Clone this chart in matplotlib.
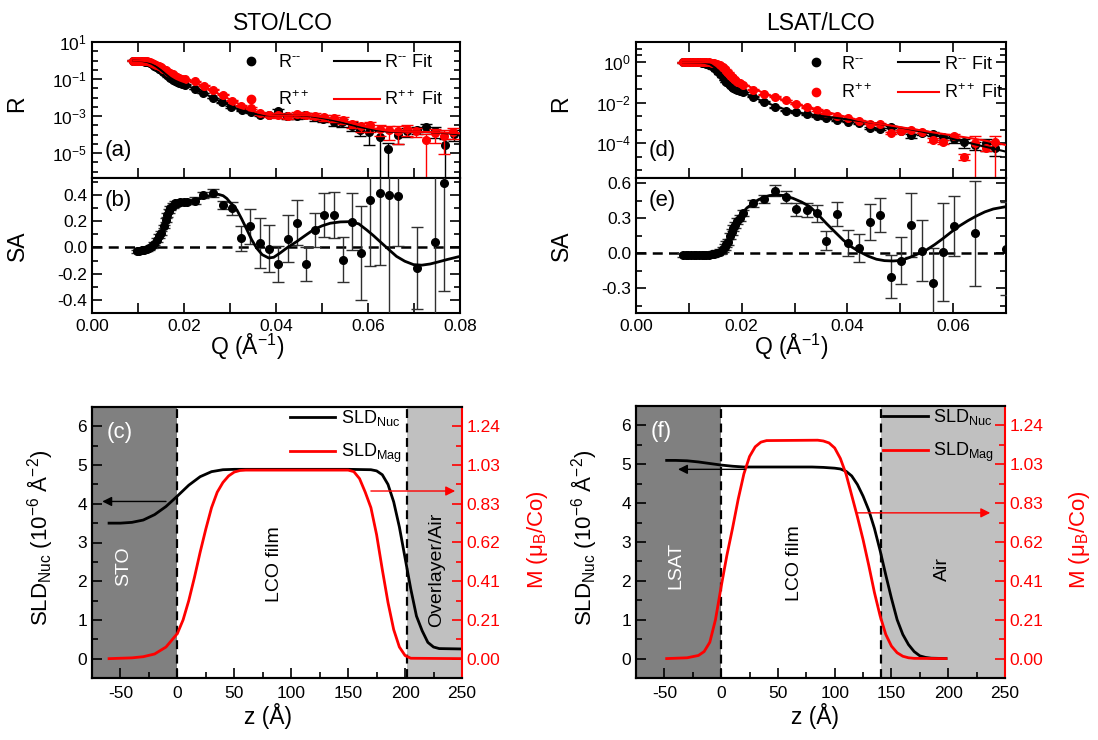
import numpy as np
import matplotlib
matplotlib.use("Agg")
import matplotlib.pyplot as plt
from matplotlib.lines import Line2D
from matplotlib.ticker import FixedLocator, NullFormatter, MultipleLocator, FormatStrFormatter

plt.rcParams.update({
    "font.family": ["Liberation Sans", "DejaVu Sans"],
    "mathtext.fontset": "custom",
    "mathtext.rm": "Liberation Sans",
    "mathtext.it": "Liberation Sans:italic",
    "mathtext.bf": "Liberation Sans:bold",
    "mathtext.default": "regular",
    "axes.unicode_minus": False,
    "axes.linewidth": 1.5,
})

# ---------------- STO/LCO reflectivity (log10 R) ----------------
q_sto_mm = [0.0090, 0.0095, 0.0100, 0.0105, 0.0110, 0.0115, 0.0120, 0.0125, 0.0130, 0.0135,
            0.0140, 0.0145, 0.0150, 0.0155, 0.0160, 0.0165, 0.0170, 0.0175, 0.0180, 0.0185,
            0.0190, 0.0195, 0.0203, 0.0223, 0.0242, 0.0263, 0.0282, 0.0302, 0.0326, 0.0345,
            0.0366, 0.0384, 0.0405, 0.0423, 0.0445, 0.0463, 0.0485, 0.0503, 0.0525, 0.0543,
            0.0565, 0.0583, 0.0603, 0.0625, 0.0644, 0.0666, 0.0685, 0.0706, 0.0726, 0.0746,
            0.0767, 0.0788]
logr_sto_mm = [0.00, 0.00, -0.01, -0.02, -0.04, -0.06, -0.09, -0.14, -0.20, -0.27,
               -0.35, -0.43, -0.52, -0.63, -0.74, -0.85, -0.95, -1.03, -1.10, -1.15,
               -1.20, -1.25, -1.30, -1.53, -1.75, -2.02, -2.25, -2.50, -2.69, -2.79,
               -2.92, -2.92, -2.74, -3.01, -3.01, -2.92, -3.05, -3.15, -3.33, -3.33,
               -3.51, -3.73, -3.88, -4.12, -4.77, -4.00, -3.82, -3.73, -3.58, -3.80,
               -4.54, -3.95]
relerr_sto_mm = [0.03] * 23 + [0.05] * 4 + [
    0.08, 0.10, 0.12, 0.15, 0.20, 0.40, 0.30, 0.30, 0.30, 0.35,
    0.35, 0.40, 0.45, 0.50, 0.55, 0.80, 1.00, 1.00, 0.70, 0.50,
    0.45, 0.50, 0.60, 1.00, 0.60]

q_sto_pp = [0.0090, 0.0095, 0.0100, 0.0105, 0.0110, 0.0115, 0.0120, 0.0125, 0.0130, 0.0135,
            0.0140, 0.0145, 0.0150, 0.0155, 0.0160, 0.0165, 0.0170, 0.0175, 0.0180, 0.0185,
            0.0190, 0.0195, 0.0203, 0.0224, 0.0244, 0.0264, 0.0285, 0.0304, 0.0324, 0.0345,
            0.0366, 0.0385, 0.0405, 0.0425, 0.0445, 0.0465, 0.0485, 0.0505, 0.0525, 0.0545,
            0.0565, 0.0585, 0.0605, 0.0625, 0.0645, 0.0665, 0.0685, 0.0705, 0.0725, 0.0745,
            0.0765, 0.0785]
logr_sto_pp = [0.00, 0.00, 0.00, -0.01, -0.02, -0.03, -0.05, -0.08, -0.12, -0.17,
               -0.23, -0.30, -0.37, -0.45, -0.53, -0.61, -0.68, -0.75, -0.81, -0.87,
               -0.92, -0.97, -1.02, -1.12, -1.35, -1.57, -1.84, -2.16, -2.43, -2.56,
               -2.85, -2.95, -2.95, -3.00, -2.90, -2.95, -2.98, -3.05, -3.10, -3.20,
               -3.40, -3.55, -3.50, -3.70, -3.75, -3.80, -3.70, -3.80, -4.27, -3.90,
               -4.05, -3.85]
relerr_sto_pp = [0.03] * 23 + [0.05] * 4 + [
    0.08, 0.10, 0.12, 0.15, 0.20, 0.25, 0.30, 0.30, 0.30, 0.35,
    0.35, 0.40, 0.40, 0.45, 0.50, 0.55, 0.60, 0.70, 0.80, 0.60,
    0.50, 1.00, 0.70, 0.90, 0.60]

q_fit_sto = [0.009, 0.010, 0.011, 0.012, 0.013, 0.014, 0.015, 0.016, 0.017, 0.018,
             0.019, 0.020, 0.022, 0.024, 0.026, 0.028, 0.030, 0.032, 0.034, 0.036,
             0.038, 0.040, 0.042, 0.044, 0.046, 0.048, 0.050, 0.052, 0.054, 0.056,
             0.058, 0.060, 0.062, 0.064, 0.066, 0.068, 0.070, 0.072, 0.074, 0.076,
             0.078, 0.080]
logfit_sto_mm = [0.00, -0.01, -0.03, -0.08, -0.18, -0.33, -0.52, -0.73, -0.93, -1.08,
                 -1.19, -1.28, -1.50, -1.73, -1.98, -2.22, -2.45, -2.65, -2.80, -2.90,
                 -2.95, -2.96, -2.95, -2.95, -2.97, -3.02, -3.10, -3.20, -3.32, -3.45,
                 -3.57, -3.68, -3.77, -3.82, -3.85, -3.85, -3.85, -3.85, -3.87, -3.90,
                 -3.94, -3.98]
logfit_sto_pp = [0.00, 0.00, -0.01, -0.04, -0.10, -0.21, -0.36, -0.52, -0.67, -0.80,
                 -0.92, -1.01, -1.15, -1.35, -1.60, -1.85, -2.10, -2.35, -2.60, -2.80,
                 -2.92, -2.97, -2.97, -2.95, -2.95, -2.98, -3.05, -3.13, -3.23, -3.35,
                 -3.48, -3.60, -3.70, -3.78, -3.82, -3.84, -3.85, -3.85, -3.86, -3.88,
                 -3.90, -3.93]

# ---------------- STO/LCO spin asymmetry ----------------
q_sa_sto = [0.0098, 0.0103, 0.0108, 0.0113, 0.0119, 0.0124, 0.0130, 0.0135, 0.0141, 0.0146,
            0.0150, 0.0156, 0.0160, 0.0163, 0.0167, 0.0170, 0.0175, 0.0181, 0.0186, 0.0192,
            0.0199, 0.0206, 0.0224, 0.0242, 0.0263, 0.0284, 0.0304, 0.0324, 0.0344, 0.0366,
            0.0385, 0.0405, 0.0425, 0.0445, 0.0465, 0.0485, 0.0505, 0.0525, 0.0545, 0.0565,
            0.0585, 0.0604, 0.0625, 0.0646, 0.0666, 0.0707, 0.0746, 0.0766]
sa_sto = [-0.030, -0.025, -0.020, -0.018, -0.012, -0.005, 0.008, 0.030, 0.058, 0.085,
          0.110, 0.160, 0.210, 0.250, 0.280, 0.300, 0.320, 0.336, 0.340, 0.344,
          0.346, 0.350, 0.357, 0.400, 0.417, 0.323, 0.300, 0.071, 0.160, 0.033,
          -0.010, -0.126, 0.066, 0.190, -0.126, 0.134, 0.248, 0.248, -0.093, 0.197,
          -0.043, 0.361, 0.417, 0.404, 0.390, -0.156, 0.038, 0.490]
sa_err_sto = [0.012] * 8 + [0.015] * 8 + [0.018] * 6 + [
    0.025, 0.025, 0.030, 0.030, 0.050, 0.095, 0.130, 0.190, 0.180, 0.140,
    0.180, 0.170, 0.130, 0.130, 0.165, 0.175, 0.170, 0.220, 0.360, 0.500,
    0.550, 0.950, 0.380, 0.310, 0.700, 0.820]
q_safit_sto = [0.0098, 0.0110, 0.0120, 0.0130, 0.0135, 0.0140, 0.0145, 0.0150, 0.0155, 0.0160,
               0.0166, 0.0172, 0.0178, 0.0184, 0.0192, 0.0200, 0.0213, 0.0228, 0.0242, 0.0255,
               0.0263, 0.0275, 0.0285, 0.0293, 0.0300, 0.0308, 0.0315, 0.0325, 0.0337, 0.0347,
               0.0358, 0.0370, 0.0384, 0.0395, 0.0409, 0.0425, 0.0445, 0.0463, 0.0481, 0.0500,
               0.0518, 0.0540, 0.0561, 0.0580, 0.0597, 0.0612, 0.0626, 0.0645, 0.0662, 0.0680,
               0.0699, 0.0717, 0.0735, 0.0753, 0.0771, 0.0800]
safit_sto = [-0.030, -0.025, -0.018, -0.008, 0.005, 0.025, 0.050, 0.085, 0.130, 0.180,
             0.240, 0.285, 0.315, 0.336, 0.345, 0.348, 0.350, 0.365, 0.380, 0.395,
             0.405, 0.405, 0.395, 0.374, 0.345, 0.315, 0.286, 0.220, 0.134, 0.060,
             -0.005, -0.055, -0.080, -0.075, -0.042, 0.000, 0.045, 0.090, 0.134, 0.165,
             0.185, 0.195, 0.197, 0.180, 0.134, 0.090, 0.045, -0.015, -0.068, -0.105,
             -0.131, -0.135, -0.126, -0.110, -0.093, -0.068]

# ---------------- LSAT/LCO reflectivity (log10 R) ----------------
q_lsat = [0.0089, 0.0094, 0.0099, 0.0104, 0.0109, 0.0114, 0.0119, 0.0124, 0.0129, 0.0133,
          0.0138, 0.0143, 0.0148, 0.0153, 0.0159, 0.0164, 0.0168, 0.0171, 0.0174, 0.0178,
          0.0181, 0.0184, 0.0187, 0.0192, 0.0197, 0.0203, 0.0222, 0.0242, 0.0263, 0.0284,
          0.0302, 0.0323, 0.0342, 0.0360, 0.0381, 0.0401, 0.0422, 0.0442, 0.0461, 0.0482,
          0.0502, 0.0521, 0.0542, 0.0561, 0.0581, 0.0601, 0.0621, 0.0641, 0.0662, 0.0680]
logr_lsat_mm = [0.00, 0.00, 0.00, 0.00, 0.00, -0.01, -0.01, -0.02, -0.04, -0.07,
                -0.12, -0.20, -0.30, -0.42, -0.57, -0.73, -0.88, -0.97, -1.05, -1.13,
                -1.20, -1.27, -1.32, -1.38, -1.43, -1.48, -1.71, -1.95, -2.22, -2.40,
                -2.47, -2.57, -2.68, -2.76, -2.86, -2.93, -3.02, -3.25, -3.30, -3.18,
                -3.40, -3.62, -3.50, -3.55, -3.70, -3.80, -3.95, -4.10, -4.00, -4.25]
relerr_lsat_mm = [0.03] * 26 + [0.04] * 6 + [0.06] * 6 + [
    0.10, 0.12, 0.15, 0.25, 0.20, 0.20, 0.30, 0.35, 0.50, 0.40, 0.60, 0.60]
logr_lsat_pp = [0.00, 0.00, 0.00, 0.00, 0.00, 0.00, 0.00, 0.00, 0.00, 0.00,
                -0.01, -0.02, -0.04, -0.08, -0.15, -0.25, -0.35, -0.42, -0.52, -0.62,
                -0.72, -0.80, -0.88, -0.97, -1.05, -1.12, -1.35, -1.58, -1.71, -1.87,
                -2.07, -2.23, -2.36, -2.53, -2.66, -2.77, -2.89, -3.05, -3.05, -3.48,
                -3.40, -3.35, -3.45, -3.84, -3.93, -3.63, -4.66, -3.97, -4.25, -3.93]
relerr_lsat_pp = [0.03] * 26 + [0.04] * 6 + [0.06] * 6 + [
    0.08, 0.10, 0.12, 0.15, 0.15, 0.20, 0.20, 0.25, 0.30, 1.00, 0.30, 1.00]

q_fit_lsat = [0.0089, 0.012, 0.013, 0.014, 0.015, 0.016, 0.017, 0.018, 0.019, 0.020,
              0.022, 0.024, 0.026, 0.028, 0.030, 0.033, 0.036, 0.039, 0.042, 0.045,
              0.048, 0.051, 0.054, 0.057, 0.060, 0.063, 0.066, 0.070]
logfit_lsat_mm = [0.00, -0.01, -0.03, -0.10, -0.28, -0.55, -0.85, -1.10, -1.30, -1.45,
                  -1.70, -1.93, -2.13, -2.31, -2.46, -2.58, -2.69, -2.79, -2.89, -3.00,
                  -3.13, -3.27, -3.42, -3.60, -3.80, -3.99, -4.17, -4.42]
logfit_lsat_pp = [0.00, 0.00, 0.00, -0.01, -0.05, -0.15, -0.35, -0.60, -0.82, -1.00,
                  -1.28, -1.50, -1.70, -1.88, -2.05, -2.26, -2.45, -2.65, -2.85, -3.00,
                  -3.12, -3.25, -3.37, -3.50, -3.62, -3.74, -3.87, -4.09]

# ---------------- LSAT/LCO spin asymmetry ----------------
q_sa_lsat = [0.0089, 0.0094, 0.0099, 0.0104, 0.0109, 0.0114, 0.0119, 0.0124, 0.0129, 0.0133,
             0.0138, 0.0143, 0.0148, 0.0153, 0.0159, 0.0164, 0.0168, 0.0171, 0.0174, 0.0178,
             0.0181, 0.0184, 0.0187, 0.0192, 0.0197, 0.0203, 0.0222, 0.0242, 0.0263, 0.0284,
             0.0302, 0.0323, 0.0342, 0.0360, 0.0381, 0.0401, 0.0422, 0.0442, 0.0461, 0.0482,
             0.0502, 0.0521, 0.0542, 0.0561, 0.0581, 0.0601, 0.0641, 0.0700]
sa_lsat = [-0.015, -0.015, -0.016, -0.015, -0.014, -0.012, -0.013, -0.010, -0.012, -0.015,
           -0.012, -0.008, -0.002, 0.005, 0.014, 0.035, 0.057, 0.080, 0.100, 0.150,
           0.186, 0.215, 0.243, 0.275, 0.300, 0.343, 0.428, 0.463, 0.537, 0.480,
           0.377, 0.371, 0.343, 0.108, 0.337, 0.091, 0.043, 0.271, 0.328, -0.200,
           -0.063, 0.243, 0.022, -0.250, 0.014, 0.234, 0.171, 0.040]
sa_err_lsat = [0.02] * 16 + [0.025] * 10 + [
    0.030, 0.035, 0.047, 0.050, 0.055, 0.060, 0.075, 0.080, 0.100, 0.110,
    0.120, 0.155, 0.145, 0.185, 0.200, 0.270, 0.260, 0.300, 0.420, 0.260,
    0.450, 0.400]
q_safit_lsat = [0.0089, 0.0110, 0.0130, 0.0145, 0.0155, 0.0162, 0.0168, 0.0174, 0.0180, 0.0187,
                0.0194, 0.0200, 0.0210, 0.0222, 0.0232, 0.0242, 0.0253, 0.0265, 0.0280, 0.0297,
                0.0313, 0.0329, 0.0345, 0.0360, 0.0376, 0.0392, 0.0408, 0.0423, 0.0440, 0.0455,
                0.0470, 0.0486, 0.0502, 0.0518, 0.0533, 0.0549, 0.0565, 0.0581, 0.0597, 0.0612,
                0.0628, 0.0644, 0.0660, 0.0676, 0.0700]
safit_lsat = [-0.012, -0.012, -0.012, -0.008, 0.005, 0.025, 0.060, 0.110, 0.170, 0.240,
              0.300, 0.340, 0.390, 0.430, 0.460, 0.480, 0.495, 0.500, 0.495, 0.471,
              0.440, 0.400, 0.330, 0.257, 0.185, 0.114, 0.055, 0.014, -0.025, -0.050,
              -0.062, -0.065, -0.060, -0.034, -0.005, 0.028, 0.075, 0.128, 0.185, 0.235,
              0.280, 0.320, 0.355, 0.380, 0.400]

# ---------------- depth profiles (SLD in 1e-6 A^-2) ----------------
z_sto_nuc = [-60, -50, -40, -30, -20, -10, 0, 10, 20, 30, 40, 50, 100, 150, 170, 175, 180,
             185, 190, 195, 200, 205, 210, 215, 220, 225, 230, 250]
sld_sto_nuc = [3.50, 3.50, 3.52, 3.58, 3.72, 3.93, 4.20, 4.48, 4.70, 4.83, 4.88, 4.89, 4.89,
               4.89, 4.88, 4.85, 4.75, 4.50, 4.05, 3.40, 2.60, 1.80, 1.10, 0.72, 0.42, 0.30,
               0.26, 0.25]
z_sto_mag = [-60, -40, -30, -20, -10, 0, 5, 10, 15, 20, 25, 30, 35, 40, 45, 50, 55, 60, 150,
             155, 160, 165, 170, 175, 180, 185, 190, 195, 200, 205, 250]
sld_sto_mag = [0.00, 0.02, 0.05, 0.12, 0.30, 0.65, 1.00, 1.50, 2.10, 2.75, 3.35, 3.90, 4.30,
               4.55, 4.72, 4.82, 4.86, 4.87, 4.87, 4.83, 4.65, 4.30, 3.90, 3.20, 2.30, 1.45,
               0.75, 0.30, 0.08, 0.01, 0.00]

z_lsat_nuc = [-48, -40, -30, -20, -10, 0, 10, 20, 30, 50, 80, 90, 95, 100, 105, 110, 115, 120,
              125, 130, 135, 140, 145, 150, 155, 160, 165, 170, 175, 180, 185, 198]
sld_lsat_nuc = [5.10, 5.10, 5.09, 5.06, 5.02, 4.98, 4.95, 4.93, 4.93, 4.93, 4.93, 4.92, 4.91,
                4.90, 4.88, 4.82, 4.70, 4.48, 4.18, 3.82, 3.35, 2.78, 2.15, 1.55, 1.00, 0.62,
                0.36, 0.18, 0.07, 0.03, 0.01, 0.00]
z_lsat_mag = [-48, -30, -20, -15, -10, -5, 0, 5, 10, 15, 20, 25, 30, 35, 40, 85, 90, 95, 100,
              105, 110, 115, 120, 125, 130, 135, 140, 145, 150, 155, 160, 165, 170, 198]
sld_lsat_mag = [0.00, 0.02, 0.08, 0.18, 0.42, 1.00, 1.85, 2.65, 3.35, 4.10, 4.75, 5.20, 5.45,
                5.57, 5.61, 5.62, 5.60, 5.55, 5.42, 5.15, 4.75, 4.20, 3.65, 3.06, 2.40, 1.70,
                1.10, 0.62, 0.32, 0.15, 0.06, 0.02, 0.005, 0.00]

# moment scale shown on the right-hand axis at SLD = 0..6
moment_ticks = ["0.00", "0.21", "0.41", "0.62", "0.83", "1.03", "1.24"]

# ---------------- figure ----------------
W, H = 1098, 740
fig = plt.figure(figsize=(W / 100, H / 100), dpi=100)


def rect(l, t, r, b):
    return [l / W, 1 - b / H, (r - l) / W, (b - t) / H]


ax_a = fig.add_axes(rect(92, 42, 460, 178))
ax_b = fig.add_axes(rect(92, 178, 460, 313))
ax_d = fig.add_axes(rect(636, 42, 1006, 178))
ax_e = fig.add_axes(rect(636, 178, 1006, 313))
ax_c = fig.add_axes(rect(92, 407, 462, 678))
ax_f = fig.add_axes(rect(636, 406, 1005, 678))

TICK_FS = 12.5
LEG_FS = 13
LABEL_FS = 16.5


def tick_style(ax, **kw):
    ax.tick_params(which="both", direction="in", width=1.2, labelsize=TICK_FS, **kw)
    ax.tick_params(which="major", length=7)
    ax.tick_params(which="minor", length=4.5)


def reflectivity(ax, q_mm, lr_mm, rel_mm, q_pp, lr_pp, rel_pp, qf, lf_mm, lf_pp, ylim,
                 major_exp, minor_exp, xmax, panel, leg_x, leg_y, hlen, lspace):
    for q, lr, rel, col, zo in ((q_mm, lr_mm, rel_mm, "black", 3), (q_pp, lr_pp, rel_pp, "red", 4)):
        r = 10.0 ** np.asarray(lr)
        err = r * np.asarray(rel)
        lo = np.minimum(err, r * 0.999)
        ax.errorbar(q, r, yerr=[lo, err], fmt="o", color=col, mec=col, ms=5.5,
                    elinewidth=1.0, capsize=4, capthick=1.0, zorder=zo)
    ax.plot(qf, 10.0 ** np.asarray(lf_mm), color="black", lw=1.5, zorder=5)
    ax.plot(qf, 10.0 ** np.asarray(lf_pp), color="red", lw=1.5, zorder=6)
    ax.set_yscale("log")
    ax.set_ylim(*ylim)
    ax.set_xlim(0, xmax)
    ax.yaxis.set_major_locator(FixedLocator([10.0 ** e for e in major_exp]))
    ax.yaxis.set_major_formatter(plt.FuncFormatter(lambda v, p: r"$10^{%d}$" % round(np.log10(v))))
    ax.yaxis.set_minor_locator(FixedLocator([10.0 ** e for e in minor_exp]))
    ax.yaxis.set_minor_formatter(NullFormatter())
    ax.xaxis.set_major_locator(MultipleLocator(0.01))
    ax.xaxis.set_major_formatter(NullFormatter())
    tick_style(ax, top=True, right=True)
    ax.text(0.035, 0.2, panel, transform=ax.transAxes, fontsize=16, va="center", ha="left")
    handles = [Line2D([], [], ls="none", marker="o", color="black", ms=6),
               Line2D([], [], ls="none", marker="o", color="red", ms=6),
               Line2D([], [], color="black", lw=1.5),
               Line2D([], [], color="red", lw=1.5)]
    labels = [r"R$^{\text{--}}$", r"R$^{++}$", r"R$^{\text{--}}$ Fit", r"R$^{++}$ Fit"]
    ax.legend(handles, labels, ncol=2, loc="upper left", bbox_to_anchor=(leg_x, leg_y),
              frameon=False, fontsize=LEG_FS, handlelength=hlen, handletextpad=0.25,
              columnspacing=1.4, labelspacing=lspace, borderpad=0, borderaxespad=0)


def asymmetry(ax, q, sa, err, qf, fit, ylim, major, minor, xmax, panel):
    ax.axhline(0, color="black", lw=1.8, ls=(0, (4, 2.5)), zorder=1)
    ax.errorbar(q, sa, yerr=err, fmt="o", color="black", ms=5.5, elinewidth=1.0,
                ecolor="#303030", capsize=4, capthick=1.0, zorder=3)
    ax.plot(qf, fit, color="black", lw=2, zorder=4)
    ax.set_xlim(0, xmax)
    ax.set_ylim(*ylim)
    ax.yaxis.set_major_locator(MultipleLocator(major))
    ax.yaxis.set_minor_locator(MultipleLocator(minor))
    ax.yaxis.set_major_formatter(FormatStrFormatter("%.1f"))
    ax.xaxis.set_major_locator(MultipleLocator(0.02))
    ax.xaxis.set_minor_locator(MultipleLocator(0.01))
    ax.xaxis.set_major_formatter(FormatStrFormatter("%.2f"))
    tick_style(ax, top=False, right=True)
    ax.tick_params(axis="x", which="both", length=7, pad=4)
    ax.text(0.035, 0.83, panel, transform=ax.transAxes, fontsize=16, va="center", ha="left")


def profile(ax, zn, nuc, zm, mag, top_edge, sub_name, top_name, film_x, sub_x, top_x,
            panel, arrow_k, arrow_r, leg_x):
    ax.axvspan(-75, 0, color="#808080", lw=0, zorder=0)
    ax.axvspan(top_edge, 250, color="#c0c0c0", lw=0, zorder=0)
    for x in (0, top_edge):
        ax.axvline(x, color="black", lw=1.6, ls=(0, (4, 2.5)), zorder=1)
    ax.plot(zn, nuc, color="black", lw=2, zorder=3)
    ax.plot(zm, mag, color="red", lw=2, zorder=4)
    ax.set_xlim(-75, 250)
    ax.set_ylim(-0.5, 6.5)
    ax.xaxis.set_major_locator(MultipleLocator(50))
    ax.xaxis.set_minor_locator(MultipleLocator(25))
    ax.yaxis.set_major_locator(MultipleLocator(1))
    ax.yaxis.set_minor_locator(MultipleLocator(0.5))
    tick_style(ax, top=False, right=False)
    ax.tick_params(axis="x", which="both", pad=6)
    ax.spines["right"].set_visible(False)
    ax.annotate("", xy=(arrow_k[1], arrow_k[2]), xytext=(arrow_k[0], arrow_k[2]),
                arrowprops=dict(arrowstyle="-|>", color="black", lw=1.0, mutation_scale=14,
                                shrinkA=0, shrinkB=0), zorder=5)
    ax.annotate("", xy=(arrow_r[1], arrow_r[2]), xytext=(arrow_r[0], arrow_r[2]),
                arrowprops=dict(arrowstyle="-|>", color="red", lw=1.0, mutation_scale=14,
                                shrinkA=0, shrinkB=0), zorder=5)
    ax.text(-62, 5.85, panel, color="white", fontsize=16, va="center", ha="left")
    ax.text(sub_x, 2.4, sub_name, color="white", fontsize=14, rotation=90, va="center", ha="center")
    ax.text(film_x, 2.45, "LCO film", color="black", fontsize=14, rotation=90, va="center", ha="center")
    ax.text(top_x, 2.3, top_name, color="black", fontsize=14, rotation=90, va="center", ha="center")
    handles = [Line2D([], [], color="black", lw=2), Line2D([], [], color="red", lw=2)]
    ax.legend(handles, [r"SLD$_{Nuc}$", r"SLD$_{Mag}$"], loc="upper left",
              bbox_to_anchor=(leg_x, 0.995), frameon=False, fontsize=LEG_FS,
              handlelength=2.5, handletextpad=0.3, labelspacing=0.75, borderpad=0,
              borderaxespad=0)
    ax2 = ax.twinx()
    ax2.set_ylim(-0.5, 6.5)
    ax2.yaxis.set_major_locator(FixedLocator(range(len(moment_ticks))))
    ax2.set_yticklabels(moment_ticks)
    ax2.yaxis.set_minor_locator(MultipleLocator(0.5))
    ax2.tick_params(which="both", direction="in", width=1.2, colors="red", labelsize=TICK_FS)
    ax2.tick_params(which="major", length=7)
    ax2.tick_params(which="minor", length=4.5)
    ax2.spines["right"].set_color("red")
    ax2.spines["right"].set_linewidth(1.5)
    return ax2


# top panels
reflectivity(ax_a, q_sto_mm, logr_sto_mm, relerr_sto_mm, q_sto_pp, logr_sto_pp, relerr_sto_pp,
             q_fit_sto, logfit_sto_mm, logfit_sto_pp, (4.6e-7, 10.0),
             [1, -1, -3, -5], [0.5, 0, -0.5, -1.5, -2, -2.5, -3.5, -4, -4.5, -5.5, -6],
             0.08, "(a)", 0.37, 0.91, 2.5, 1.05)
asymmetry(ax_b, q_sa_sto, sa_sto, sa_err_sto, q_safit_sto, safit_sto, (-0.5, 0.53),
          0.2, 0.1, 0.08, "(b)")
reflectivity(ax_d, q_lsat, logr_lsat_mm, relerr_lsat_mm, q_lsat, logr_lsat_pp, relerr_lsat_pp,
             q_fit_lsat, logfit_lsat_mm, logfit_lsat_pp, (1.9e-6, 10.0),
             [0, -2, -4], [2 / 3, 1 / 3, -2 / 3, -4 / 3, -8 / 3, -10 / 3, -14 / 3, -16 / 3],
             0.07, "(d)", 0.43, 0.90, 2.3, 0.6)
asymmetry(ax_e, q_sa_lsat, sa_lsat, sa_err_lsat, q_safit_lsat, safit_lsat, (-0.51, 0.645),
          0.3, 0.15, 0.07, "(e)")

# bottom panels
profile(ax_c, z_sto_nuc, sld_sto_nuc, z_sto_mag, sld_sto_mag, 202, "STO", "Overlayer/Air",
        85, -47, 228, "(c)", (-10, -66, 4.06), (170, 244, 4.33), 0.535)
profile(ax_f, z_lsat_nuc, sld_lsat_nuc, z_lsat_mag, sld_lsat_mag, 141, "LSAT", "Air",
        65, -40, 195, "(f)", (21, -38, 4.87), (120, 237, 3.75), 0.669)


def ftext(x, y, s, **kw):
    fig.text(x / W, 1 - y / H, s, ha="center", va="center", **kw)


ftext(283, 23, "STO/LCO", fontsize=16.5)
ftext(820, 23, "LSAT/LCO", fontsize=16.5)
for x in (17, 561):
    ftext(x, 104, "R", fontsize=LABEL_FS, rotation=90)
    ftext(x, 246, "SA", fontsize=LABEL_FS, rotation=90)
ftext(247, 347, r"Q (Å$^{-1}$)", fontsize=LABEL_FS)
ftext(791, 347, r"Q (Å$^{-1}$)", fontsize=LABEL_FS)
ftext(268, 716, "z (Å)", fontsize=LABEL_FS)
ftext(815, 716, "z (Å)", fontsize=LABEL_FS)
for x in (40, 584):
    ftext(x, 538, r"SLD$_{Nuc}$ (10$^{-6}$ Å$^{-2}$)", fontsize=16, rotation=90)
for x in (537, 1080):
    ftext(x, 540, r"M (μ$_B$/Co)", fontsize=16, rotation=90, color="red")

fig.savefig("out.png", dpi=100)
